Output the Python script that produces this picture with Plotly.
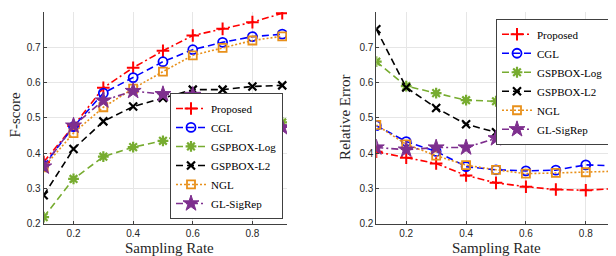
import plotly.graph_objects as go

sampling_rate = [0.1, 0.2, 0.3, 0.4, 0.5, 0.6, 0.7, 0.8, 0.9]
methods = ["Proposed", "CGL", "GSPBOX-Log", "GSPBOX-L2", "NGL", "GL-SigRep"]

fscore_proposed = [0.375, 0.477, 0.585, 0.642, 0.690, 0.733, 0.752, 0.771, 0.796]
fscore_cgl = [0.365, 0.475, 0.570, 0.614, 0.659, 0.693, 0.714, 0.730, 0.737]
fscore_gsplog = [0.219, 0.327, 0.390, 0.417, 0.435, 0.468, 0.466, 0.479, 0.487]
fscore_gspl2 = [0.281, 0.412, 0.490, 0.532, 0.556, 0.580, 0.580, 0.589, 0.592]
fscore_ngl = [0.360, 0.457, 0.530, 0.583, 0.631, 0.677, 0.698, 0.719, 0.731]
fscore_sigrep = [0.362, 0.478, 0.549, 0.576, 0.567, 0.565, 0.533, 0.500, 0.473]

err_proposed = [0.404, 0.387, 0.371, 0.337, 0.316, 0.305, 0.297, 0.295, 0.300]
err_cgl = [0.478, 0.433, 0.405, 0.362, 0.353, 0.350, 0.352, 0.367, 0.364]
err_gsplog = [0.659, 0.590, 0.570, 0.550, 0.547, 0.524, 0.524, 0.518, 0.509]
err_gspl2 = [0.751, 0.586, 0.528, 0.482, 0.459, 0.441, 0.442, 0.443, 0.440]
err_ngl = [0.480, 0.425, 0.393, 0.366, 0.353, 0.342, 0.344, 0.346, 0.349]
err_sigrep = [0.416, 0.410, 0.416, 0.416, 0.442, 0.459, 0.491, 0.530, 0.571]

x_ticks = [0.2, 0.4, 0.6, 0.8]
y_ticks = [0.2, 0.3, 0.4, 0.5, 0.6, 0.7, 0.8]

DASH = "7px,4px"
DASHDOT = "7px,3px,2px,3px"
DOT = "2px,2px"

styles = [
    dict(color="#FF0000", dash=DASHDOT, symbol="cross-thin", size=9, lw=2),
    dict(color="#0000FF", dash=DASH, symbol="circle-open", size=9, lw=1.8),
    dict(color="#77AC30", dash=DASH, symbol="asterisk-open", size=9, lw=2.2),
    dict(color="#000000", dash=DASH, symbol="x-thin", size=8, lw=2.2),
    dict(color="#E8901A", dash=DOT, symbol="square-open", size=8, lw=1.8),
    dict(color="#7E2F8E", dash=DASHDOT, symbol="star", size=12, lw=1),
]

left_data = [fscore_proposed, fscore_cgl, fscore_gsplog, fscore_gspl2, fscore_ngl, fscore_sigrep]
right_data = [err_proposed, err_cgl, err_gsplog, err_gspl2, err_ngl, err_sigrep]

fig = go.Figure()

def add_series(data, xa, ya, leg):
    for name, ys, st in zip(methods, data, styles):
        fig.add_trace(go.Scatter(
            x=sampling_rate, y=ys, name=name, mode="lines+markers",
            line=dict(color=st["color"], dash=st["dash"], width=1.6),
            marker=dict(symbol=st["symbol"], size=st["size"], color=st["color"],
                        line=dict(color=st["color"], width=st["lw"])),
            xaxis=xa, yaxis=ya, legend=leg,
        ))

add_series(left_data, "x", "y", "legend")
add_series(right_data, "x2", "y2", "legend2")

W, H = 616, 256
SERIF = "'Liberation Serif', 'Times New Roman', serif"
tick_font = dict(family="'Liberation Sans', Arial, sans-serif", size=10, color="#262626")
title_font = dict(family=SERIF, size=15, color="#262626")
legend_font = dict(family=SERIF, size=11, color="#000000")

def xax(domain, anchor):
    return dict(domain=domain, anchor=anchor, range=[0.1, 0.916], tickvals=x_ticks,
                ticktext=[f"{v:.1f}" for v in x_ticks], showgrid=True,
                gridcolor="#E6E6E6", gridwidth=1, showline=True, linecolor="#404040",
                linewidth=1, ticks="inside", ticklen=3, tickcolor="#404040",
                tickfont=tick_font, zeroline=False)

def yax(domain, anchor):
    return dict(domain=domain, anchor=anchor, range=[0.2, 0.8], tickvals=y_ticks,
                ticktext=[f"{v:.1f}" for v in y_ticks], showgrid=True,
                gridcolor="#E6E6E6", gridwidth=1, showline=True, linecolor="#404040",
                linewidth=1, ticks="inside", ticklen=3, tickcolor="#404040",
                tickfont=tick_font, zeroline=False)

ydom = [1 - 221 / H, 1 - 4 / H]

def title_ann(text, px, py, angle=0):
    return dict(text=text, x=px / W, y=1 - py / H, xref="paper", yref="paper",
                xanchor="center", yanchor="middle", showarrow=False,
                textangle=angle, font=title_font)

fig.update_layout(
    width=W, height=H,
    margin=dict(l=0, r=0, t=0, b=0),
    paper_bgcolor="white", plot_bgcolor="white",
    xaxis=xax([35.7 / W, 279 / W], "y"),
    yaxis=yax(ydom, "x"),
    xaxis2=xax([368.3 / W, 612.5 / W], "y2"),
    yaxis2=yax(ydom, "x2"),
    annotations=[
        title_ann("Sampling Rate", 161, 246),
        title_ann("Sampling Rate", 489, 246),
        title_ann("F-score", 7, 110, -90),
        title_ann("Relative Error", 337.5, 112, -90),
    ],
    legend=dict(x=162 / W, y=1 - 216 / H, xanchor="left", yanchor="bottom",
                bgcolor="white", bordercolor="#404040", borderwidth=1,
                font=legend_font, itemwidth=30, tracegroupgap=0),
    legend2=dict(x=488 / W, y=1 - 11 / H, xanchor="left", yanchor="top",
                 bgcolor="white", bordercolor="#404040", borderwidth=1,
                 font=legend_font, itemwidth=30, tracegroupgap=0),
    showlegend=True,
)

fig.write_html("out.html")
